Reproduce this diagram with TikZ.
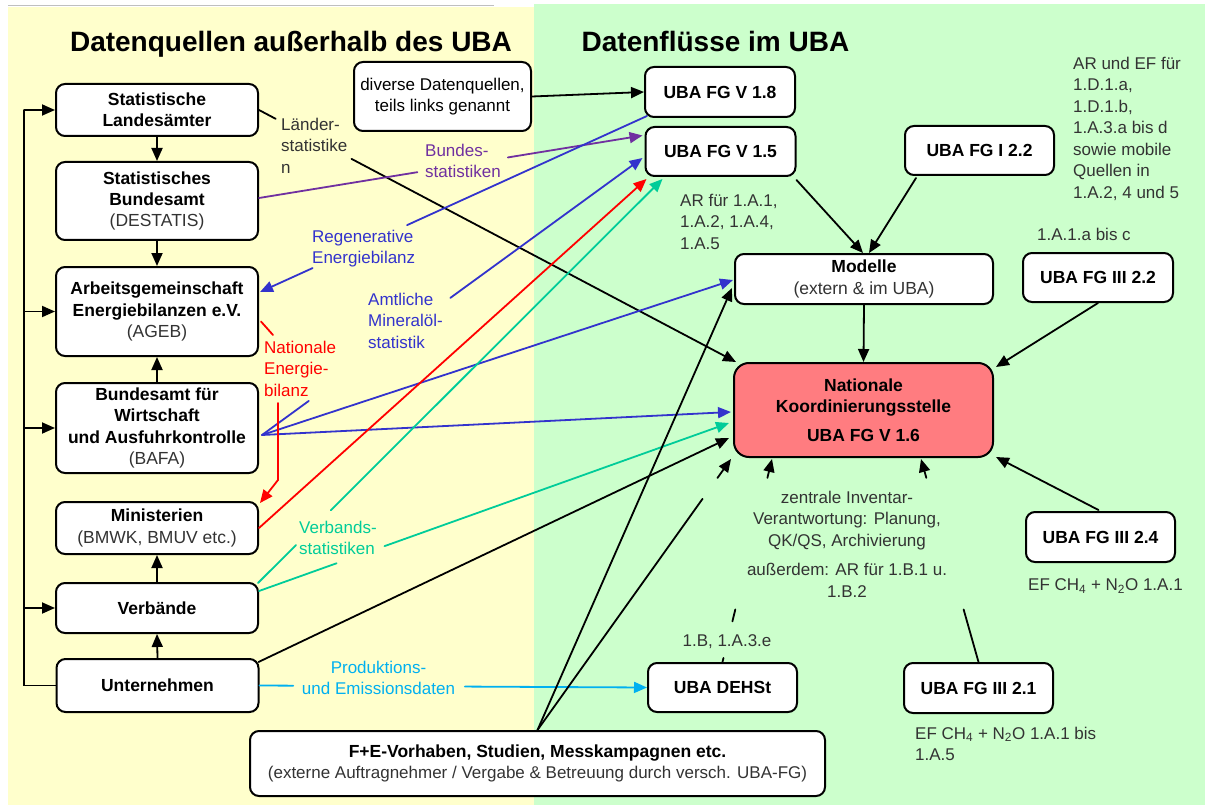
\documentclass[tikz,border=0pt]{standalone}
\usepackage{fontspec}
\setmainfont{Liberation Sans}
\usetikzlibrary{arrows.meta,calc}
\definecolor{bgY}{HTML}{FFFFCC}
\definecolor{bgG}{HTML}{CCFFCC}
\definecolor{natF}{HTML}{FF7C80}
\definecolor{cBlue}{HTML}{3333CC}
\definecolor{cPurp}{HTML}{7030A0}
\definecolor{cGreen}{HTML}{00CC99}
\definecolor{cCyan}{HTML}{00B0F0}
\definecolor{txtG}{HTML}{333333}
\begin{document}
\begin{tikzpicture}[x=1pt,y=-1pt,
  box/.style={draw=black, line width=2pt, fill=white, rounded corners=9pt, align=center, inner sep=0pt, font=\fontsize{17.5}{21.3}\selectfont},
  lbl/.style={inner sep=0pt, align=left, text=txtG, font=\fontsize{17}{21.5}\selectfont, anchor=north west},
  clbl/.style={lbl, align=center, anchor=north},
  arr/.style={-{Triangle[length=13pt,width=11pt]}},
  con/.style={line width=1.8pt, line cap=round},
  ttl/.style={font=\bfseries\fontsize{28}{30}\selectfont, anchor=base, inner sep=0pt}
]
\fill[white] (0,0) rectangle (1210,805);
\useasboundingbox (0,0) rectangle (1210,805);
\fill[bgY] (8,7) rectangle (534,805);
\fill[bgG] (534,4) rectangle (1205,805);
\draw[gray!50, line width=1pt] (8,6) -- (494,6);

% titles
\node[ttl] (t1) at (291,52) {Datenquellen außerhalb des UBA};
\node[ttl] (t2) at (715.5,52) {Datenflüsse im UBA};

% left boxes
\node[box, minimum width=202pt, minimum height=52pt] (landes) at (157,110) {\textbf{Statistische}\\\textbf{Landesämter}};
\node[box, minimum width=202pt, minimum height=78pt] (destatis) at (157,201) {\textbf{Statistisches}\\\textbf{Bundesamt}\\\textcolor{txtG}{(DESTATIS)}};
\node[box, minimum width=202pt, minimum height=89pt] (ageb) at (157,311.5) {\textbf{Arbeitsgemeinschaft}\\\textbf{Energiebilanzen e.V.}\\\textcolor{txtG}{(AGEB)}};
\node[box, minimum width=202pt, minimum height=90pt] (bafa) at (157,428) {\textbf{Bundesamt für}\\\textbf{Wirtschaft}\\\textbf{und Ausfuhrkontrolle}\\\textcolor{txtG}{(BAFA)}};
\node[box, minimum width=202pt, minimum height=52pt] (minist) at (157,528) {\textbf{Ministerien}\\\textcolor{txtG}{(BMWK, BMUV etc.)}};
\node[box, minimum width=202pt, minimum height=50pt] (verb) at (157,608) {\textbf{Verbände}};
\node[box, minimum width=202pt, minimum height=53pt] (untern) at (157.5,685.5) {\textbf{Unternehmen}};

% other boxes
\node[box, minimum width=177pt, minimum height=69pt, font=\fontsize{17}{21.5}\selectfont] (diverse) at (442.5,96.5) {diverse Datenquellen,\\teils links genannt};
\node[box, minimum width=150pt, minimum height=50pt] (v18) at (720,92) {\textbf{UBA FG V 1.8}};
\node[box, minimum width=150pt, minimum height=49pt] (v15) at (720.5,151.5) {\textbf{UBA FG V 1.5}};
\node[box, minimum width=149pt, minimum height=49pt] (fgi22) at (979.5,150.5) {\textbf{UBA FG I 2.2}};
\node[box, minimum width=258pt, minimum height=50pt] (modelle) at (864,279) {\textbf{Modelle}\\\textcolor{txtG}{(extern \& im UBA)}};
\node[box, minimum width=150pt, minimum height=49pt] (fgiii22) at (1098,277.5) {\textbf{UBA FG III 2.2}};
\node[box, minimum width=259pt, minimum height=94pt, fill=natF, rounded corners=15pt] (nat) at (863.5,410) {\textbf{Nationale}\\\textbf{Koordinierungsstelle}\\[7pt]\textbf{UBA FG V 1.6}};
\node[box, minimum width=149pt, minimum height=50pt] (fgiii24) at (1100.5,537) {\textbf{UBA FG III 2.4}};
\node[box, minimum width=149pt, minimum height=49pt] (dehst) at (722.5,687.5) {\textbf{UBA DEHSt}};
\node[box, minimum width=149pt, minimum height=50pt] (fgiii21) at (978.5,688) {\textbf{UBA FG III 2.1}};
\node[box, minimum width=575pt, minimum height=65pt] (fe) at (537.5,763.5) {\textbf{F+E-Vorhaben, Studien, Messkampagnen etc.}\\\textcolor{txtG}{\fontsize{17}{21}\selectfont(externe Auftragnehmer / Vergabe \& Betreuung durch versch. UBA-FG)}};

% labels
\node[lbl] (laender) at (281,117.5) {Länder-\\statistike\\n};
\node[lbl, text=cPurp] (bundes) at (425,143.5) {Bundes-\\statistiken};
\node[lbl, text=cBlue] (regen) at (312,229.5) {Regenerative\\Energiebilanz};
\node[lbl, text=cBlue] (amtl) at (368,292.5) {Amtliche\\Mineralöl-\\statistik};
\node[lbl, text=red] (natE) at (264,340.5) {Nationale\\Energie-\\bilanz};
\node[lbl, text=cGreen] (verbs) at (299,520.5) {Verbands-\\statistiken};
\node[clbl, text=cCyan] (prod) at (378.5,660.5) {Produktions-\\und Emissionsdaten};
\node[lbl] (arfuer) at (680,193.5) {AR für 1.A.1,\\1.A.2, 1.A.4,\\1.A.5};
\node[lbl] (arund) at (1073,56.5) {AR und EF für\\1.D.1.a,\\1.D.1.b,\\1.A.3.a bis d\\sowie mobile\\Quellen in\\1.A.2, 4 und 5};
\node[lbl] (a1abc) at (1037,227.5) {1.A.1.a bis c};
\node[clbl] (zentrale) at (847,490.5) {zentrale Inventar-\\Verantwortung: Planung,\\QK/QS, Archivierung\\[8pt]außerdem: AR für 1.B.1 u.\\1.B.2};
\node[clbl] (b1) at (727,634.5) {1.B, 1.A.3.e};
\node[lbl] (ef24) at (1028,578.5) {EF CH\textsubscript{4} + N\textsubscript{2}O 1.A.1};
\node[lbl] (ef21) at (915,726.5) {EF CH\textsubscript{4} + N\textsubscript{2}O 1.A.1 bis\\1.A.5};

% left vertical arrows
\draw[con,arr] (landes.south) -- (destatis.north);
\draw[con,arr] (destatis.south) -- (ageb.north);
\draw[con,arr] (bafa.north) -- (ageb.south);
\draw[con,arr] (verb.north) -- (minist.south);
\draw[con,arr] (untern.north) -- (verb.south);

% bus
\coordinate (busTop) at (24,110);
\draw[con, line cap=butt] (untern.west) -| (busTop);
\draw[con,arr] (busTop) -- (landes.west);
\draw[con,arr] (busTop |- ageb.west) -- (ageb.west);
\draw[con,arr] (busTop |- bafa.west) -- (bafa.west);
\draw[con,arr] (busTop |- verb.west) -- (verb.west);

% diverse -> V 1.8
\draw[con,arr] (diverse.east) -- (v18.west);

% Laenderstatistiken
\coordinate (natNW) at ($(nat.north west)+(3,0)$);
\draw[con] (landes.east) -- ($(landes.east)!0.035!(natNW)$);
\draw[con,arr] ($(landes.east)!0.194!(natNW)$) -- (natNW);

% Bundesstatistiken
\coordinate (pS) at ($(destatis.east)+(0,-3)$);
\coordinate (pE) at ($(v15.west)+(-2,-16)$);
\draw[con,cPurp] (pS) -- ($(pS)!0.413!(pE)$);
\draw[con,cPurp,arr] ($(pS)!0.649!(pE)$) -- (pE);

% Regenerative Energiebilanz
\coordinate (rS) at ($(v18.south west)+(3,-2)$);
\coordinate (rE) at ($(ageb.east)+(1,-19.5)$);
\draw[con,cBlue] (rS) -- ($(rS)!0.62!(rE)$);
\draw[con,cBlue,arr] ($(rS)!0.864!(rE)$) -- (rE);

% BAFA
\coordinate (bO) at ($(bafa.east)+(3,7)$);
\coordinate (aE) at ($(v15.west)+(-2,6.5)$);
\draw[con,cBlue] (bO) -- ($(bO)!0.123!(aE)$);
\draw[con,cBlue,arr] ($(bO)!0.495!(aE)$) -- (aE);
\draw[con,cBlue,arr] (bO) -- ($(modelle.west)+(-1,1)$);
\draw[con,cBlue,arr] (bO) -- ($(nat.west)+(-2,2)$);

% Nationale Energiebilanz
\coordinate (nEa) at (273,335);
\coordinate (nEb) at (278,403);
\coordinate (nEc) at (278,480);
\draw[con,red] ($(ageb.east)+(2,10)$) -- (nEa);
\draw[con,red,arr] (nEb) -- (nEc) -- ($(minist.north east)+(1,2)$);
\draw[con,red,arr] (minist.east) -- ($(v15.south west)+(2,2)$);

% Verbandsstatistiken
\coordinate (gS) at ($(verb.north east)+(-1,1)$);
\coordinate (gE) at ($(v15.south west)+(18,2)$);
\draw[con,cGreen] (gS) -- ($(gS)!0.094!(gE)$);
\draw[con,cGreen,arr] ($(gS)!0.18!(gE)$) -- (gE);
\coordinate (g2S) at ($(verb.east)+(0,-17)$);
\coordinate (g2E) at ($(nat.west)+(-4,13)$);
\draw[con,cGreen] (g2S) -- ($(g2S)!0.165!(g2E)$);
\draw[con,cGreen,arr] ($(g2S)!0.267!(g2E)$) -- (g2E);

% Unternehmen -> Nat
\draw[con,arr] ($(untern.north east)+(-1,4)$) -- ($(nat.west)+(-4,28)$);

% Produktions- und Emissionsdaten
\draw[con,cCyan] (untern.east) -- ($(untern.east)!0.087!(dehst.west)$);
\draw[con,cCyan,arr] ($(untern.east)!0.53!(dehst.west)$) -- (dehst.west);

% F+E
\draw[con,arr] (fe.north) -- ($(modelle.south west)+(-2,-17)$);
\coordinate (fE) at ($(nat.south west)+(-2,1)$);
\draw[con] (fe.north) -- ($(fe.north)!0.853!(fE)$);
\draw[con,arr] ($(fe.north)!0.93!(fE)$) -- (fE);

% DEHSt -> Nat
\coordinate (dE) at ($(nat.south west)+(39,1)$);
\draw[con] (dehst.north) -- ($(dehst.north)!0.02!(dE)$);
\draw[con] ($(dehst.north)!0.2!(dE)$) -- ($(dehst.north)!0.259!(dE)$);
\draw[con,arr] ($(dehst.north)!0.907!(dE)$) -- (dE);

% FG III 2.1 -> Nat
\coordinate (f21E) at ($(nat.south west)+(188,1)$);
\draw[con] (fgiii21.north) -- ($(fgiii21.north)!0.259!(f21E)$);
\draw[con,arr] ($(fgiii21.north)!0.907!(f21E)$) -- (f21E);

% FG III 2.4 -> Nat
\draw[con,arr] ($(fgiii24.north)+(-2,-1)$) -- ($(nat.south east)+(2,-1)$);

% upper right
\draw[con,arr] (modelle.south) -- (nat.north);
\draw[con,arr] (fgiii22.south) -- ($(nat.north east)+(2,5)$);
\draw[con,arr] ($(v15.south east)+(0,3)$) -- ($(modelle.north)+(-1,0)$);
\draw[con,arr] ($(fgi22.south west)+(12,2)$) -- ($(modelle.north)+(5,0)$);
\end{tikzpicture}
\end{document}
